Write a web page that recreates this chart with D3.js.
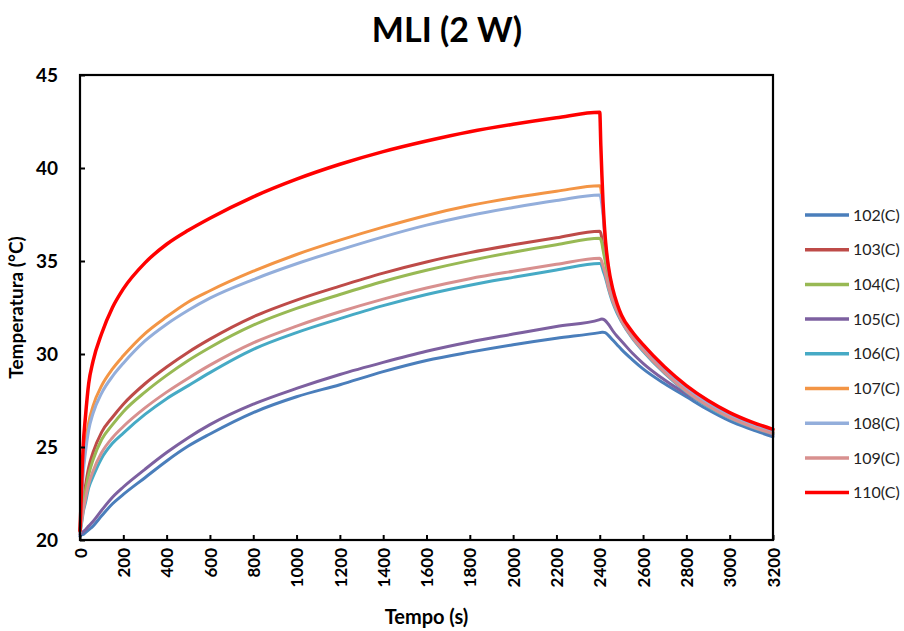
<!DOCTYPE html>
<html>
<head>
<meta charset="utf-8">
<script src="https://cdn.jsdelivr.net/npm/d3@7"></script>
<style>
  html, body { margin: 0; padding: 0; background: #ffffff; }
  svg { display: block; }
</style>
</head>
<body>
<svg id="chart" width="904" height="631"></svg>
<script>
// ---- data ----
const time = [0,5,10,15,25,40,60,100,150,200,300,400,500,600,800,1000,1200,1400,1600,1800,2000,2200,2400,2405,2410,2415,2425,2440,2460,2480,2500,2550,2600,2700,2800,2900,3000,3100,3200];

const s102 = [20.2,20.25,20.3,20.3,20.4,20.55,20.75,21.3,21.95,22.45,23.35,24.25,25.05,25.7,26.85,27.7,28.35,29.05,29.65,30.1,30.5,30.85,31.15,31.16,31.17,31.17,31.15,31.0,30.75,30.5,30.25,29.7,29.2,28.4,27.7,27.0,26.4,25.95,25.55];
const s103 = [20.5,21.0,21.6,22.1,22.9,23.9,24.7,25.8,26.6,27.3,28.4,29.3,30.1,30.8,32.0,32.9,33.65,34.35,34.95,35.45,35.87,36.25,36.6,36.5,36.2,35.8,35.2,34.1,33.1,32.45,31.9,31.0,30.3,29.1,28.1,27.3,26.65,26.15,25.78];
const s104 = [20.5,20.9,21.4,21.9,22.6,23.5,24.3,25.4,26.2,26.9,27.95,28.85,29.65,30.35,31.55,32.45,33.2,33.9,34.5,35.02,35.47,35.87,36.22,36.15,35.95,35.6,35.0,34.0,33.05,32.4,31.85,30.95,30.25,29.05,28.05,27.25,26.6,26.12,25.75];
const s105 = [20.3,20.35,20.4,20.45,20.55,20.75,21.0,21.6,22.3,22.85,23.8,24.7,25.5,26.2,27.3,28.15,28.9,29.55,30.15,30.65,31.07,31.48,31.85,31.87,31.88,31.87,31.8,31.6,31.25,30.95,30.7,30.05,29.5,28.6,27.85,27.2,26.6,26.1,25.65];
const s106 = [20.4,20.7,21.1,21.5,22.0,22.8,23.4,24.4,25.2,25.75,26.75,27.6,28.3,29.0,30.25,31.15,31.9,32.6,33.2,33.7,34.12,34.52,34.87,34.85,34.7,34.5,34.15,33.5,32.75,32.2,31.75,30.85,30.15,28.95,27.95,27.15,26.55,26.07,25.7];
const s107 = [20.5,21.8,23.0,23.9,25.1,26.3,27.2,28.3,29.2,29.9,31.1,32.0,32.8,33.4,34.45,35.35,36.12,36.82,37.45,37.98,38.4,38.75,39.05,38.9,38.4,37.8,36.2,34.6,33.4,32.6,32.0,31.1,30.4,29.2,28.2,27.4,26.75,26.25,25.87];
const s108 = [20.5,21.6,22.7,23.6,24.7,25.9,26.8,27.9,28.8,29.5,30.7,31.6,32.35,33.0,34.0,34.85,35.6,36.3,36.93,37.45,37.88,38.25,38.55,38.4,38.0,37.5,36.0,34.5,33.3,32.55,31.95,31.05,30.35,29.15,28.15,27.35,26.7,26.2,25.83];
const s109 = [20.4,20.8,21.2,21.6,22.2,23.0,23.7,24.7,25.5,26.1,27.1,27.95,28.7,29.4,30.6,31.5,32.27,32.95,33.55,34.05,34.45,34.82,35.15,35.1,34.95,34.75,34.35,33.6,32.85,32.3,31.8,30.9,30.2,29.0,28.0,27.2,26.58,26.1,25.72];
const s110 = [20.5,22.0,23.8,25.1,26.6,28.4,29.6,31.1,32.5,33.5,34.9,35.9,36.65,37.3,38.45,39.4,40.2,40.88,41.45,41.95,42.35,42.7,43.0,41.2,39.6,38.2,36.3,34.7,33.5,32.7,32.1,31.2,30.5,29.3,28.3,27.5,26.85,26.35,25.95];

const seriesNames = ["102(C)","103(C)","104(C)","105(C)","106(C)","107(C)","108(C)","109(C)","110(C)"];
const seriesValues = [s102,s103,s104,s105,s106,s107,s108,s109,s110];
const seriesColors = ["#4a7ebb","#be4b48","#98b954","#7d60a0","#46aac5","#f39545","#93aedb","#d8908f","#ff0000"];

const xTicks = [0,200,400,600,800,1000,1200,1400,1600,1800,2000,2200,2400,2600,2800,3000,3200];
const yTicks = [20,25,30,35,40,45];

const title = "MLI (2 W)";
const xTitle = "Tempo (s)";
const yTitle = "Temperatura (°C)";

// ---- layout ----
const svg = d3.select("#chart");
const FONT = "Lato, 'Open Sans', sans-serif";
const plot = { left: 80, right: 773, top: 75, bottom: 540 };

const x = d3.scaleLinear().domain([0, 3200]).range([plot.left, plot.right]);
const y = d3.scaleLinear().domain([20, 45]).range([plot.bottom, plot.top]);

svg.append("rect").attr("width", 904).attr("height", 631).attr("fill", "#ffffff");

// title
svg.append("text")
  .attr("x", 447).attr("y", 42)
  .attr("text-anchor", "middle")
  .attr("font-family", FONT).attr("font-weight", "bold")
  .attr("font-size", 34).attr("fill", "#000")
  .text(title);

// series
const line = d3.line()
  .x((d, i) => x(time[i]))
  .y(d => y(d))
  .curve(d3.curveMonotoneX);

const g = svg.append("g");
seriesValues.forEach((vals, k) => {
  g.append("path")
    .datum(vals)
    .attr("d", line)
    .attr("fill", "none")
    .attr("stroke", seriesColors[k])
    .attr("stroke-width", k === 8 ? 3.5 : 3)
    .attr("stroke-linejoin", "round")
    .attr("stroke-linecap", "round");
});

// axes (ticks inside)
const xAxis = d3.axisBottom(x).tickValues(xTicks).tickSizeInner(-5).tickSizeOuter(0).tickFormat(d3.format("d"));
const yAxis = d3.axisLeft(y).tickValues(yTicks).tickSizeInner(-5).tickSizeOuter(0).tickFormat(d3.format("d"));

const gx = svg.append("g").attr("transform", `translate(0,${plot.bottom})`).call(xAxis);
gx.select(".domain").remove();
gx.selectAll(".tick line").attr("stroke", "#000").attr("stroke-width", 2);
gx.selectAll(".tick text")
  .attr("font-family", FONT).attr("font-weight", "bold").attr("font-size", 17).attr("fill", "#000")
  .attr("transform", "rotate(-90)")
  .attr("text-anchor", "end")
  .attr("x", -8).attr("y", 0).attr("dy", "0.36em");

const gy = svg.append("g").attr("transform", `translate(${plot.left},0)`).call(yAxis);
gy.select(".domain").remove();
gy.selectAll(".tick line").attr("stroke", "#000").attr("stroke-width", 2);
gy.selectAll(".tick text")
  .attr("font-family", FONT).attr("font-weight", "bold").attr("font-size", 19).attr("fill", "#000")
  .attr("x", -22).attr("dy", "0.35em");

// frame
svg.append("rect")
  .attr("x", plot.left).attr("y", plot.top)
  .attr("width", plot.right - plot.left).attr("height", plot.bottom - plot.top)
  .attr("fill", "none").attr("stroke", "#000").attr("stroke-width", 2.2);

// axis titles
svg.append("text")
  .attr("x", (plot.left + plot.right) / 2).attr("y", 624)
  .attr("text-anchor", "middle")
  .attr("font-family", FONT).attr("font-weight", "bold").attr("font-size", 20).attr("fill", "#000")
  .text(xTitle);

svg.append("text")
  .attr("transform", `translate(23,${(plot.top + plot.bottom) / 2}) rotate(-90)`)
  .attr("text-anchor", "middle")
  .attr("font-family", FONT).attr("font-weight", "bold").attr("font-size", 19).attr("fill", "#000")
  .text(yTitle);

// legend
const lg = svg.append("g");
seriesNames.forEach((name, k) => {
  const ly = 215 + k * 34.7;
  lg.append("line")
    .attr("x1", 805).attr("x2", 849).attr("y1", ly).attr("y2", ly)
    .attr("stroke", seriesColors[k]).attr("stroke-width", 3.5);
  lg.append("text")
    .attr("x", 853).attr("y", ly).attr("dy", "0.35em")
    .attr("font-family", FONT).attr("font-size", 16).attr("fill", "#222")
    .text(name);
});
</script>
</body>
</html>
